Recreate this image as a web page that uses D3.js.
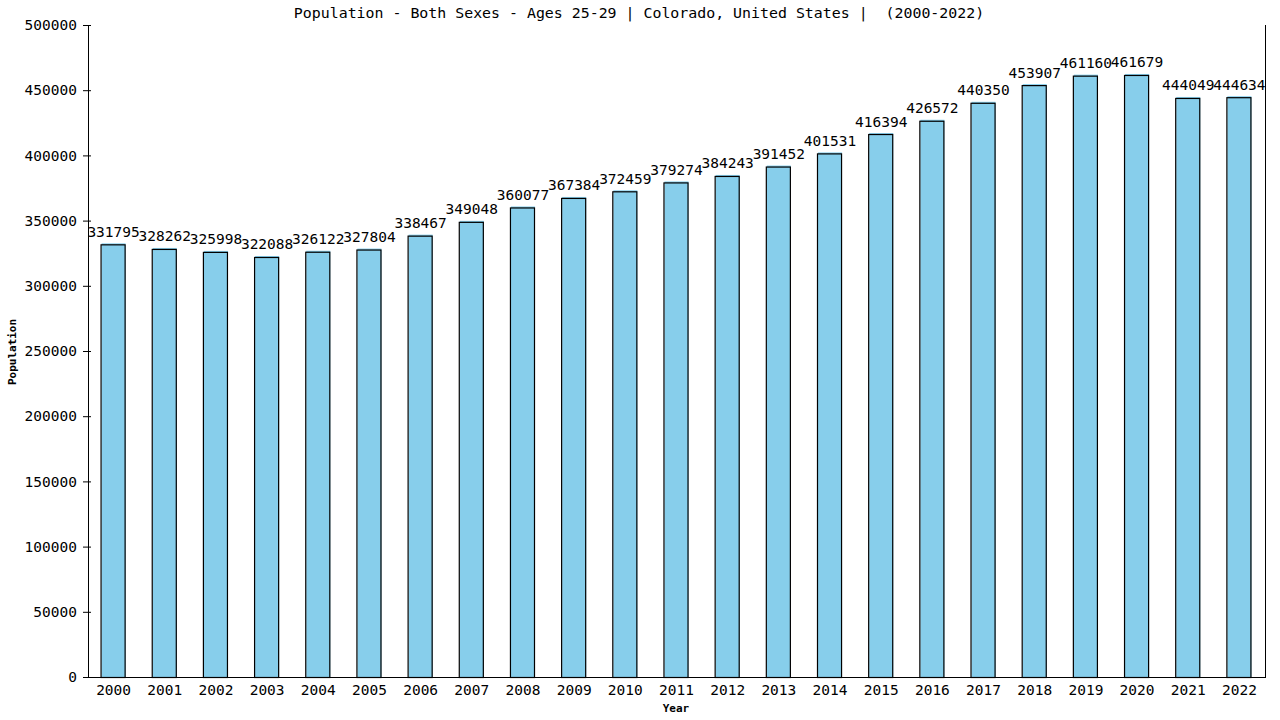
<!DOCTYPE html>
<html><head><meta charset="utf-8">
<script src="https://cdn.jsdelivr.net/npm/d3@7"></script>
<style>body{margin:0;background:#fff;} svg{display:block;}</style>
</head><body>
<svg id="c" width="1280" height="720"></svg>
<script>
const years = ["2000","2001","2002","2003","2004","2005","2006","2007","2008","2009","2010","2011","2012","2013","2014","2015","2016","2017","2018","2019","2020","2021","2022"];
const population = [331795,328262,325998,322088,326122,327804,338467,349048,360077,367384,372459,379274,384243,391452,401531,416394,426572,440350,453907,461160,461679,444049,444634];
const yTicks = [0,50000,100000,150000,200000,250000,300000,350000,400000,450000,500000];
const title = "Population - Both Sexes - Ages 25-29 | Colorado, United States |  (2000-2022)";

const svg = d3.select("#c");
const L = 88, R = 1265, T = 25, B = 677;
const font = "'DejaVu Sans Mono', monospace";
const x = d3.scaleBand().domain(years).range([L, R]).paddingInner(0.53).paddingOuter(0.265);
const y = d3.scaleLinear().domain([0, 500000]).range([B, T]);

svg.append("text").attr("x", 639).attr("y", 18).attr("text-anchor", "middle")
  .attr("font-family", font).attr("font-size", 14.9).style("white-space", "pre")
  .attr("xml:space", "preserve").text(title);

// bars
const g = svg.append("g");
g.selectAll("rect.f").data(years).join("rect").attr("class","f")
  .attr("x", d => x(d)).attr("y", (d,i) => y(population[i]) - 1)
  .attr("width", x.bandwidth()).attr("height", (d,i) => B - y(population[i]) + 1)
  .attr("fill", "#87ceeb");
g.selectAll("rect.o").data(years).join("rect").attr("class","o")
  .attr("x", d => x(d) - 0.5).attr("y", (d,i) => y(population[i]) + 0.5)
  .attr("width", x.bandwidth()).attr("height", (d,i) => B - y(population[i]))
  .attr("fill", "none").attr("stroke", "#000").attr("stroke-width", 1.2);

g.selectAll("text.v").data(years).join("text").attr("class","v")
  .attr("x", d => x(d) + x.bandwidth()/2).attr("y", (d,i) => y(population[i]) - 7.5)
  .attr("text-anchor", "middle").attr("font-family", font).attr("font-size", 14.5)
  .text((d,i) => population[i]);

// y axis
const ya = svg.append("g").attr("transform", `translate(${L},0)`)
  .call(d3.axisLeft(y).tickValues(yTicks).tickFormat(d3.format("d")).tickSize(5).tickPadding(6));
ya.select(".domain").remove();
ya.selectAll("text").attr("font-family", font).attr("font-size", 14.5).attr("fill", "#000");
ya.selectAll(".tick line").attr("x2", -5).attr("x1", 3).attr("stroke", "#000");
svg.append("line").attr("x1", L+0.5).attr("x2", L+0.5).attr("y1", T).attr("y2", B).attr("stroke", "#000");
svg.append("line").attr("x1", R+0.5).attr("x2", R+0.5).attr("y1", T).attr("y2", B).attr("stroke", "#000");

// x axis
const xa = svg.append("g").attr("transform", `translate(0,${B})`)
  .call(d3.axisBottom(x).tickSize(0).tickPadding(7));
xa.select(".domain").attr("stroke", "#000").attr("d", `M${L},0.5H${R+1}`);
xa.selectAll("text").attr("font-family", font).attr("font-size", 14.5).attr("fill", "#000").attr("dy", "0.75em");

svg.append("text").attr("x", 676).attr("y", 712).attr("text-anchor", "middle")
  .attr("font-family", font).attr("font-size", 11).attr("font-weight", "bold").text("Year");
svg.append("text").attr("transform", "translate(16,352) rotate(-90)").attr("text-anchor", "middle")
  .attr("font-family", font).attr("font-size", 11).attr("font-weight", "bold").text("Population");
</script>
</body></html>
